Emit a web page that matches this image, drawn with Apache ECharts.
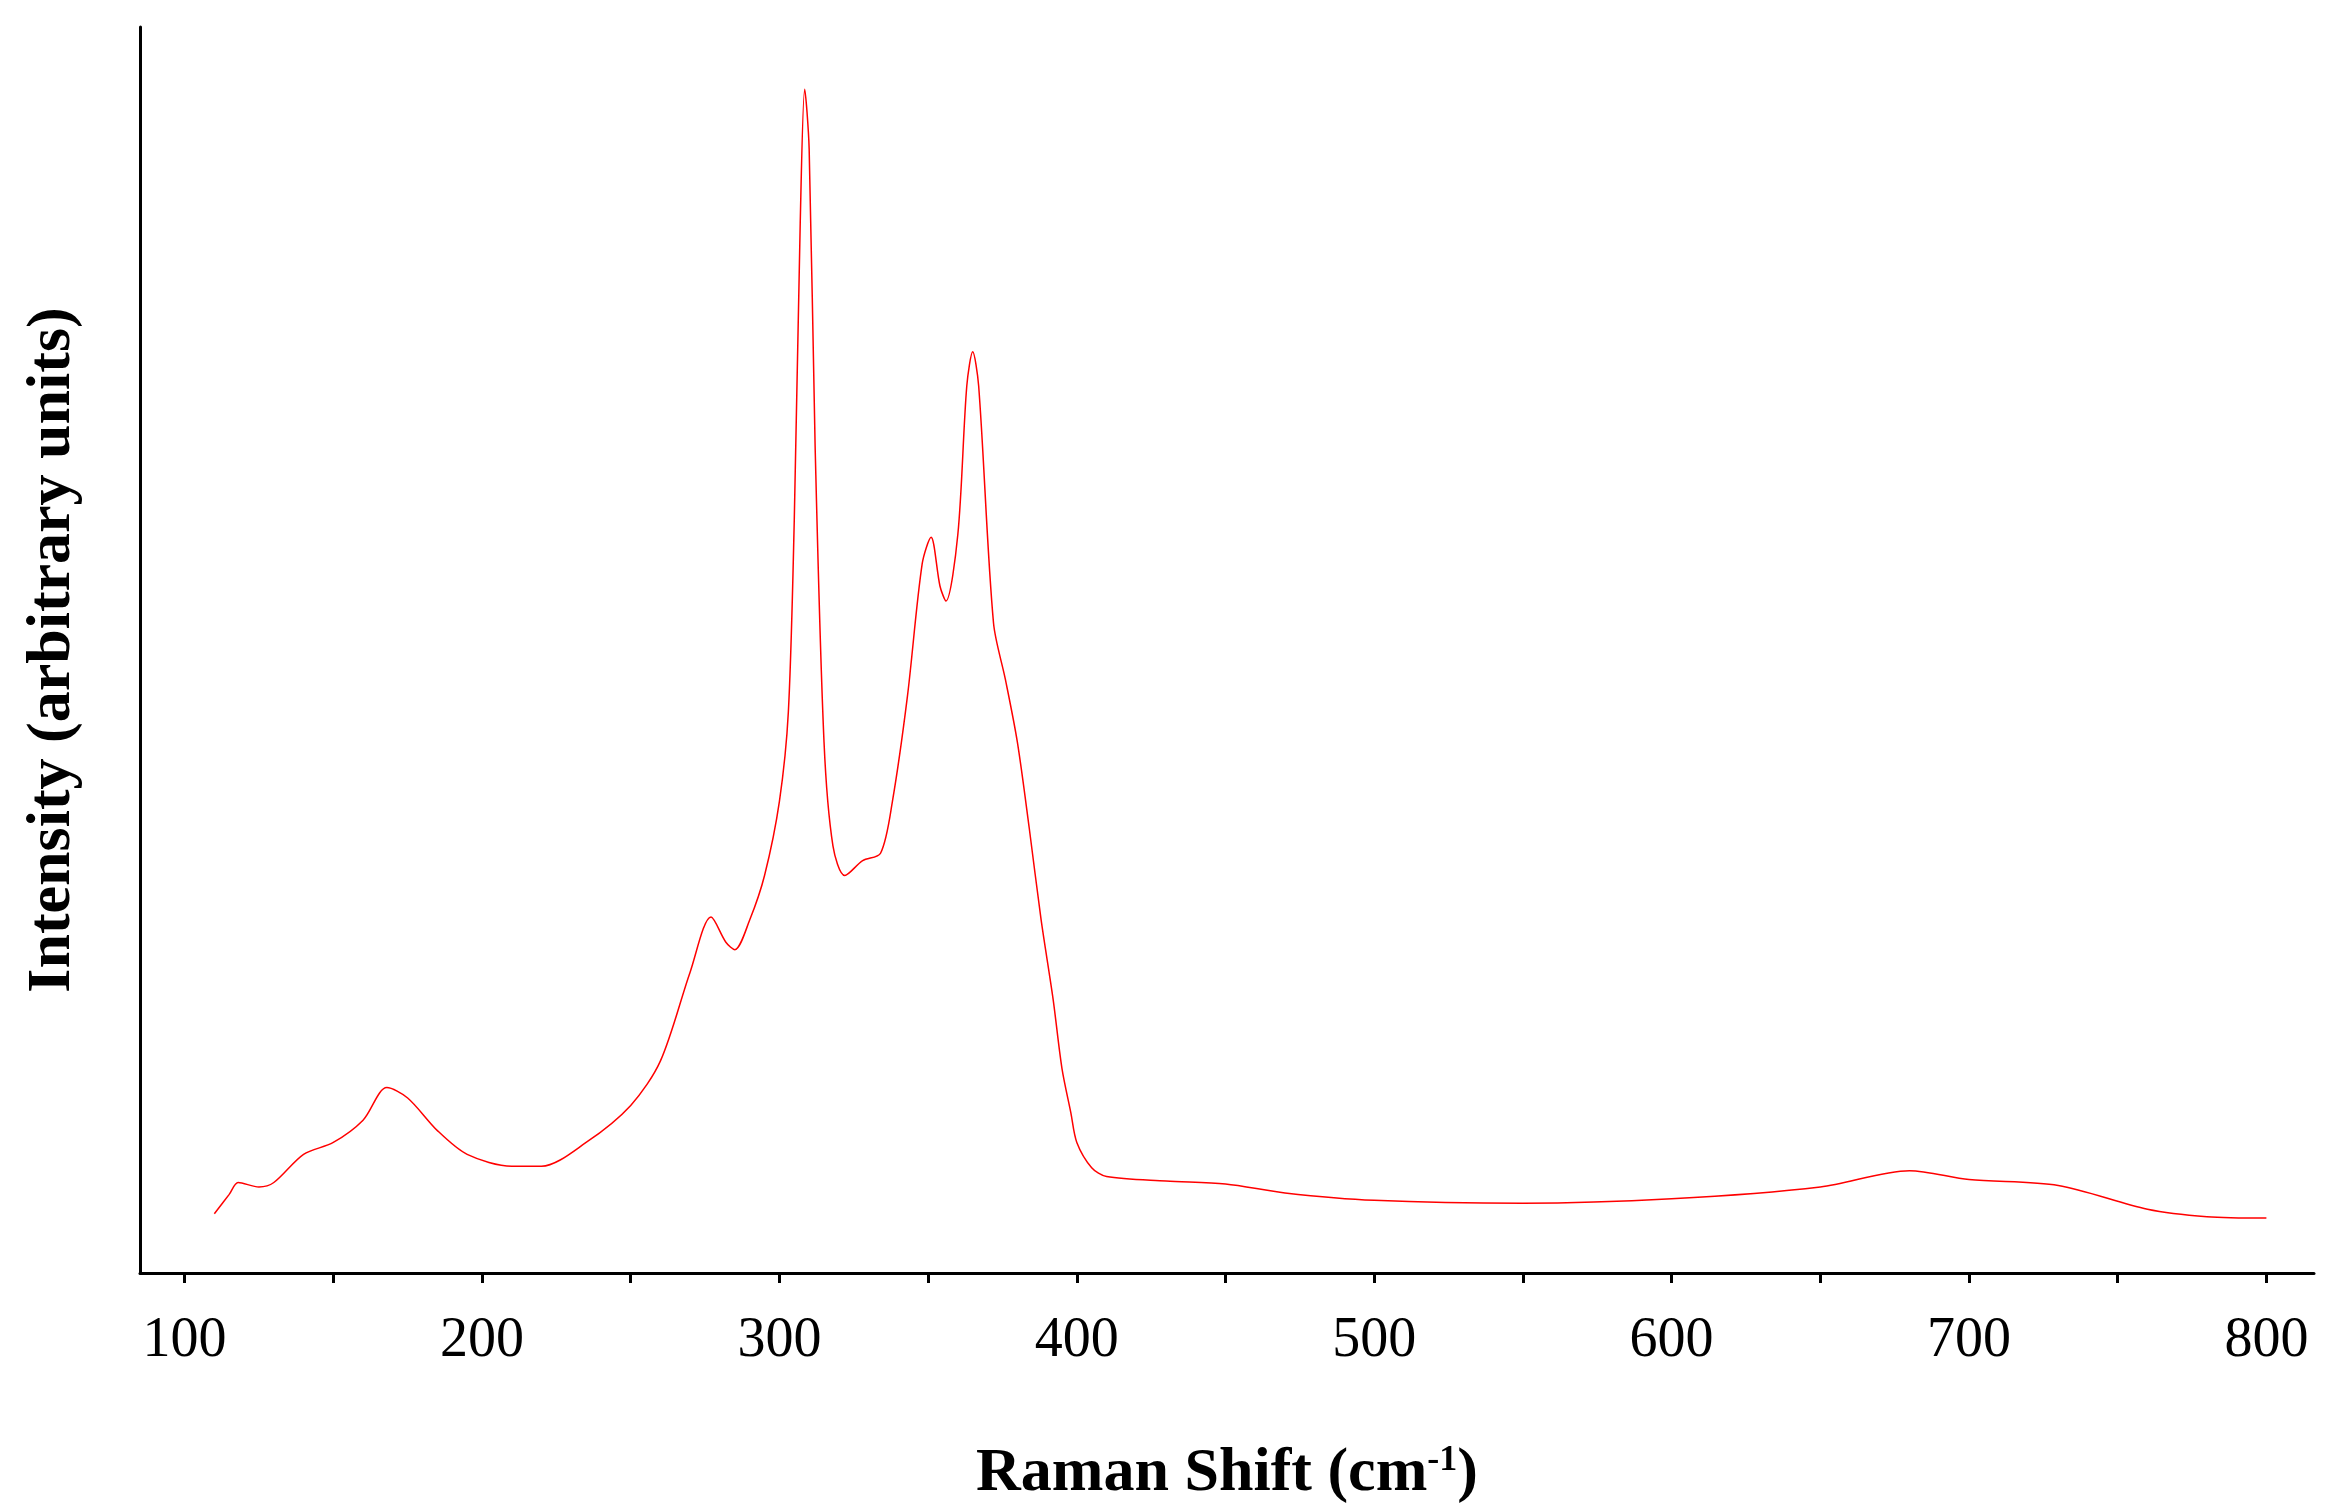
<!DOCTYPE html><html><head><meta charset="utf-8"><script src="https://cdn.jsdelivr.net/npm/echarts@6/dist/echarts.min.js"></script>
<style>html,body{margin:0;background:#fff}#c{width:2333px;height:1510px}</style></head><body><div id="c"></div><script>
const shift=[110,115,118,125,130,140,150,160,168,175,185,195,210,220,235,250,260,270,277,282,285,290,295,300,303,305,307,308.5,310,312,315,318,322,328,334,338,343,348,351,354,356,360,363,365,367,372,376,380,384,388,392,395,398,400,405,410,430,450,470,500,550,600,650,680,700,730,760,780,800];
const intensity=[40,53,61,58,61,80,88,103,125,118,96,80,72,72,88,113,143,203,240,223,218,238,268,318,378,508,708,798,758,558,358,288,268,278,283,318,388,478,496,463,453,498,598,621,598,438,400,358,300,238,185,138,108,88,71,65,62,60,54,49,47,50,58,69,63,59,43,38,37];
const xTicks=[100,200,300,400,500,600,700,800];
const xMinor=[100,150,200,250,300,350,400,450,500,550,600,650,700,750,800];
const F='"Liberation Serif","DejaVu Serif",serif';
const c=echarts.init(document.getElementById('c'));
c.setOption({animation:false,
grid:{left:140,right:19,top:27,bottom:227},
xAxis:{type:'value',min:85,max:816,
 name:'{a|Raman Shift (cm}{s|-1}{a|)}',nameLocation:'middle',nameGap:170,
 nameTextStyle:{rich:{a:{fontFamily:F,fontWeight:'bold',fontSize:62,color:'#000'},s:{fontFamily:F,fontWeight:'bold',fontSize:36,color:'#000',verticalAlign:'top',padding:[0,0,22,0]}}},
 axisLine:{lineStyle:{color:'#000',width:3}},
 axisTick:{customValues:xMinor,length:10,lineStyle:{color:'#000',width:3}},
 axisLabel:{customValues:xTicks,fontFamily:F,fontSize:56,color:'#000',margin:40},
 splitLine:{show:false}},
yAxis:{type:'value',min:0,max:840,
 name:'Intensity (arbitrary units)',nameLocation:'middle',nameGap:56,
 nameTextStyle:{fontFamily:F,fontWeight:'bold',fontSize:62,color:'#000'},
 axisLine:{show:true,lineStyle:{color:'#000',width:3}},axisTick:{show:false},axisLabel:{show:false},splitLine:{show:false}},
series:[{type:'line',data:shift.map((x,i)=>[x,intensity[i]]),showSymbol:false,smooth:0.3,lineStyle:{color:'#ff0000',width:1.5}}]
});
</script></body></html>
